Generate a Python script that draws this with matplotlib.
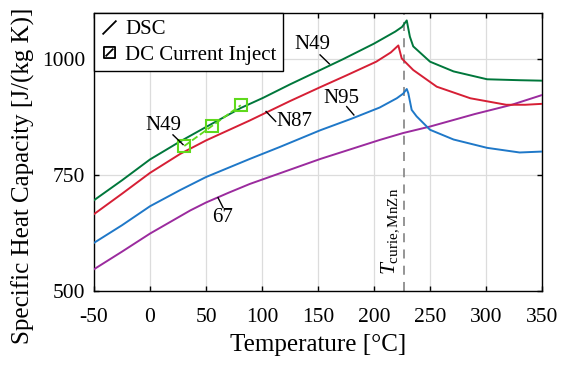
import numpy as np
import matplotlib
matplotlib.use("Agg")
import matplotlib.pyplot as plt
from matplotlib.path import Path
from matplotlib.lines import Line2D

plt.rcParams["font.family"] = ["Liberation Serif", "DejaVu Serif"]
plt.rcParams["mathtext.fontset"] = "custom"
plt.rcParams["mathtext.rm"] = "Liberation Serif"
plt.rcParams["mathtext.it"] = "Liberation Serif:italic"
plt.rcParams["axes.unicode_minus"] = False

# === DSC curves (temperature in degC, cp in J/(kg K)) ===
n49_t = [-50, -25, 0, 27, 50, 81, 101, 125, 152, 172, 200, 219, 225, 229.2,
         232, 235, 250, 271, 301, 330, 350]
n49_cp = [696, 739, 784, 823, 854, 895, 917, 946, 977, 1000, 1034, 1060, 1070, 1084,
          1049, 1028, 995, 974, 957, 955, 954]

n87_t = [-50, -25, 0, 27, 50, 89, 101, 125, 152, 175, 202, 215, 221.7,
         224.7, 235, 256, 286, 318, 335, 350]
n87_cp = [666, 710, 755, 796, 825, 868, 882, 910, 940, 965, 995, 1015, 1030,
          1002, 977, 941, 916, 902, 902, 904]

n95_t = [-50, -25, 0, 27, 50, 89, 116, 152, 180, 205, 220.3, 226, 229.2,
         230.6, 233.6, 238, 250, 271, 301, 330, 340, 350]
n95_cp = [604, 642, 683, 718, 746, 785, 811, 847, 872, 896, 916, 926, 936,
          927, 891, 877, 848, 827, 809, 799, 800, 801]

m67_t = [-50, -25, 0, 36, 50, 70, 89, 152, 205, 226, 250, 290, 323, 350]
m67_cp = [547, 585, 624, 674, 691, 712, 731, 785, 826, 841, 855, 882, 902, 923]

# DC current injection measurements (N49)
inj_t = [30.6, 55, 81]
inj_cp = [813, 855.6, 901]

curie_t = 227

x_ticks = [-50, 0, 50, 100, 150, 200, 250, 300, 350]
y_ticks = [500, 750, 1000]

c_green = "#00773b"
c_red = "#d61f35"
c_blue = "#1f78c8"
c_purple = "#9b2b9e"
c_lime = "#5fd91c"

fig = plt.figure(figsize=(5.61, 3.65), dpi=100)
ax = fig.add_axes([0.1676, 0.2027, 0.7986, 0.7616])

ax.axvline(curie_t, color="#8c8c8c", lw=1.3, ls=(0, (5, 4)), zorder=1)

ax.plot(m67_t, m67_cp, color=c_purple, lw=1.4, zorder=3)
ax.plot(n95_t, n95_cp, color=c_blue, lw=1.4, zorder=3)
ax.plot(n87_t, n87_cp, color=c_red, lw=1.4, zorder=3)
ax.plot(n49_t, n49_cp, color=c_green, lw=1.4, zorder=3)
ax.plot(inj_t, inj_cp, color=c_lime, lw=1.3, ls="--", marker="s", ms=8,
        mfc="none", mec=c_lime, mew=1.5, zorder=4)

# curve labels with short leader lines
labels = [
    ("N49", 145.3, 1033, (151.8, 160.1), (1009.7, 990.3)),
    ("N87", 128.5, 866, (103.6, 112.2), (887.5, 866)),
    ("N95", 171, 916, (175.6, 182), (898, 880)),
    ("67", 65.2, 658, (60.7, 65.2), (701.5, 680)),
    ("N49", 11.6, 857, (20.5, 29.5), (837, 816)),
]
for txt, tx, ty, lx, ly in labels:
    ax.plot(lx, ly, color="k", lw=1.0, zorder=5)
    ax.text(tx, ty, txt, fontsize=15, ha="center", va="center", zorder=6)

ax.text(214.3, 628, r"$T_{\mathrm{curie,MnZn}}$", rotation=90, fontsize=15.5,
        ha="center", va="center")

ax.set_xlim(-50, 350)
ax.set_ylim(500, 1100)
ax.set_xticks(x_ticks)
ax.set_yticks(y_ticks)
ax.grid(True, color="#dcdcdc", lw=0.9)
ax.set_axisbelow(True)
ax.tick_params(direction="in", top=True, right=True, length=3.6, width=1,
               labelsize=15.5)
ax.tick_params(axis="x", pad=12)
ax.tick_params(axis="y", pad=6.5)
for sp in ax.spines.values():
    sp.set_linewidth(1.0)

fig.text(318 / 561, 1 - 345 / 365, "Temperature [°C]", fontsize=18,
         ha="center", va="center")
fig.text(23 / 561, 1 - 176 / 365, "Specific Heat Capacity [J/(kg K)]",
         fontsize=18, rotation=90, ha="center", va="center")

# legend with custom symbols
diag = Path([(-1, -1), (1, 1)], [Path.MOVETO, Path.LINETO])
sq_diag = Path([(-1, -1), (1, -1), (1, 1), (-1, 1), (-1, -1), (-0.7, -0.7), (0.7, 0.7)],
               [Path.MOVETO, Path.LINETO, Path.LINETO, Path.LINETO, Path.CLOSEPOLY,
                Path.MOVETO, Path.LINETO])
h1 = Line2D([], [], ls="none", marker=diag, ms=10, mec="k", mew=1.3)
h2 = Line2D([], [], ls="none", marker=sq_diag, ms=8, mfc="none", mec="k", mew=1.3)
leg = ax.legend([h1, h2], ["DSC", "DC Current Inject"], loc="upper left",
                bbox_to_anchor=(0, 1), borderaxespad=0, fontsize=15,
                fancybox=False, framealpha=1, edgecolor="k", handlelength=0.8,
                handletextpad=0.4, borderpad=0.3, labelspacing=0.3)
leg.get_frame().set_linewidth(1.0)
leg.set_zorder(10)

fig.savefig("out.png", dpi=100)
